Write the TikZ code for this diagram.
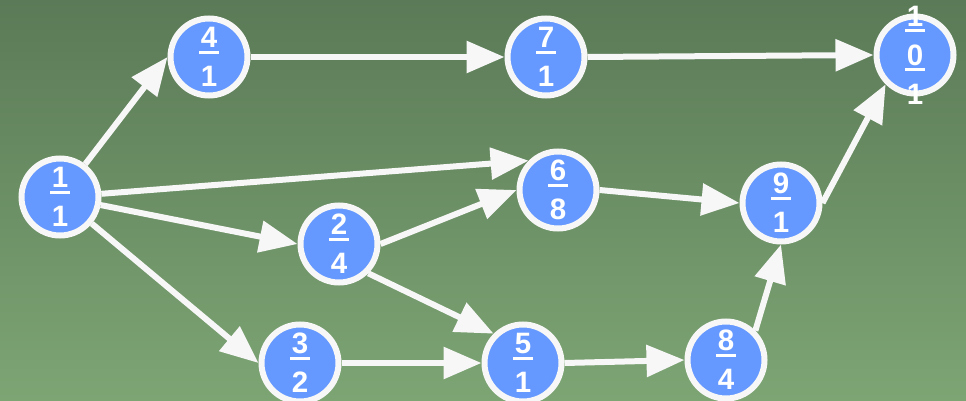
\documentclass[tikz,border=0pt]{standalone}
\usepackage{fontspec}
\setmainfont{Liberation Sans}
\usetikzlibrary{arrows.meta}
\definecolor{bgtop}{RGB}{91,122,87}
\definecolor{bgbottom}{RGB}{125,165,116}
\definecolor{nodeblue}{RGB}{102,153,255}
\definecolor{edgewhite}{RGB}{247,247,247}
\newcommand\topdigit[1]{\setbox0\hbox{#1}\rlap{\kern-1.5pt\rule[-6pt]{\dimexpr\wd0+3pt\relax}{3pt}}\box0}
\begin{document}
\begin{tikzpicture}[x=1pt,y=-1pt,
    vertex/.style={circle, draw=edgewhite, line width=6pt, fill=nodeblue,
      text=white, minimum size=77pt, inner sep=0pt, align=center,
      font=\bfseries\fontsize{29.5}{39}\selectfont},
    >={Triangle[length=38pt,width=31pt]}]
      \shade[top color=bgtop, bottom color=bgbottom] (0,0) rectangle (966,401);
      \useasboundingbox (0,0) rectangle (966,401);
      \draw
        (60,197) node[vertex] (1){\topdigit{1}\\1}
        (339,244) node[vertex] (2){\topdigit{2}\\4}
        (300,363) node[vertex] (3){\topdigit{3}\\2}
        (209,57) node[vertex] (4){\topdigit{4}\\1}
        (523,363) node[vertex] (5){\topdigit{5}\\1}
        (558,190) node[vertex] (6){\topdigit{6}\\8}
        (546,57) node[vertex] (7){\topdigit{7}\\1}
        (726,360) node[vertex] (8){\topdigit{8}\\4}
        (781,203) node[vertex] (9){\topdigit{9}\\1}
        (915,55) node[vertex, inner ysep=-13pt] (10){\topdigit{1}\\\topdigit{0}\\1};
      \begin{scope}[->, line width=6pt, draw=edgewhite]
        \draw (1) to (4.west);
        \draw (1) to (6.north west);
        \draw (1) to (2.west);
        \draw (1) to (3.west);
        \draw (2.east) to (6.west);
        \draw (2.south east) to (5.north west);
        \draw (3.east) to (5.west);
        \draw (4.east) to (7.west);
        \draw (5.east) to (8.west);
        \draw (6.east) to (9.west);
        \draw (7.east) to (10.west);
        \draw (8.north east) to (9.south);
        \draw (9.east) to (10.south west);
      \end{scope}
    \end{tikzpicture}
\end{document}
